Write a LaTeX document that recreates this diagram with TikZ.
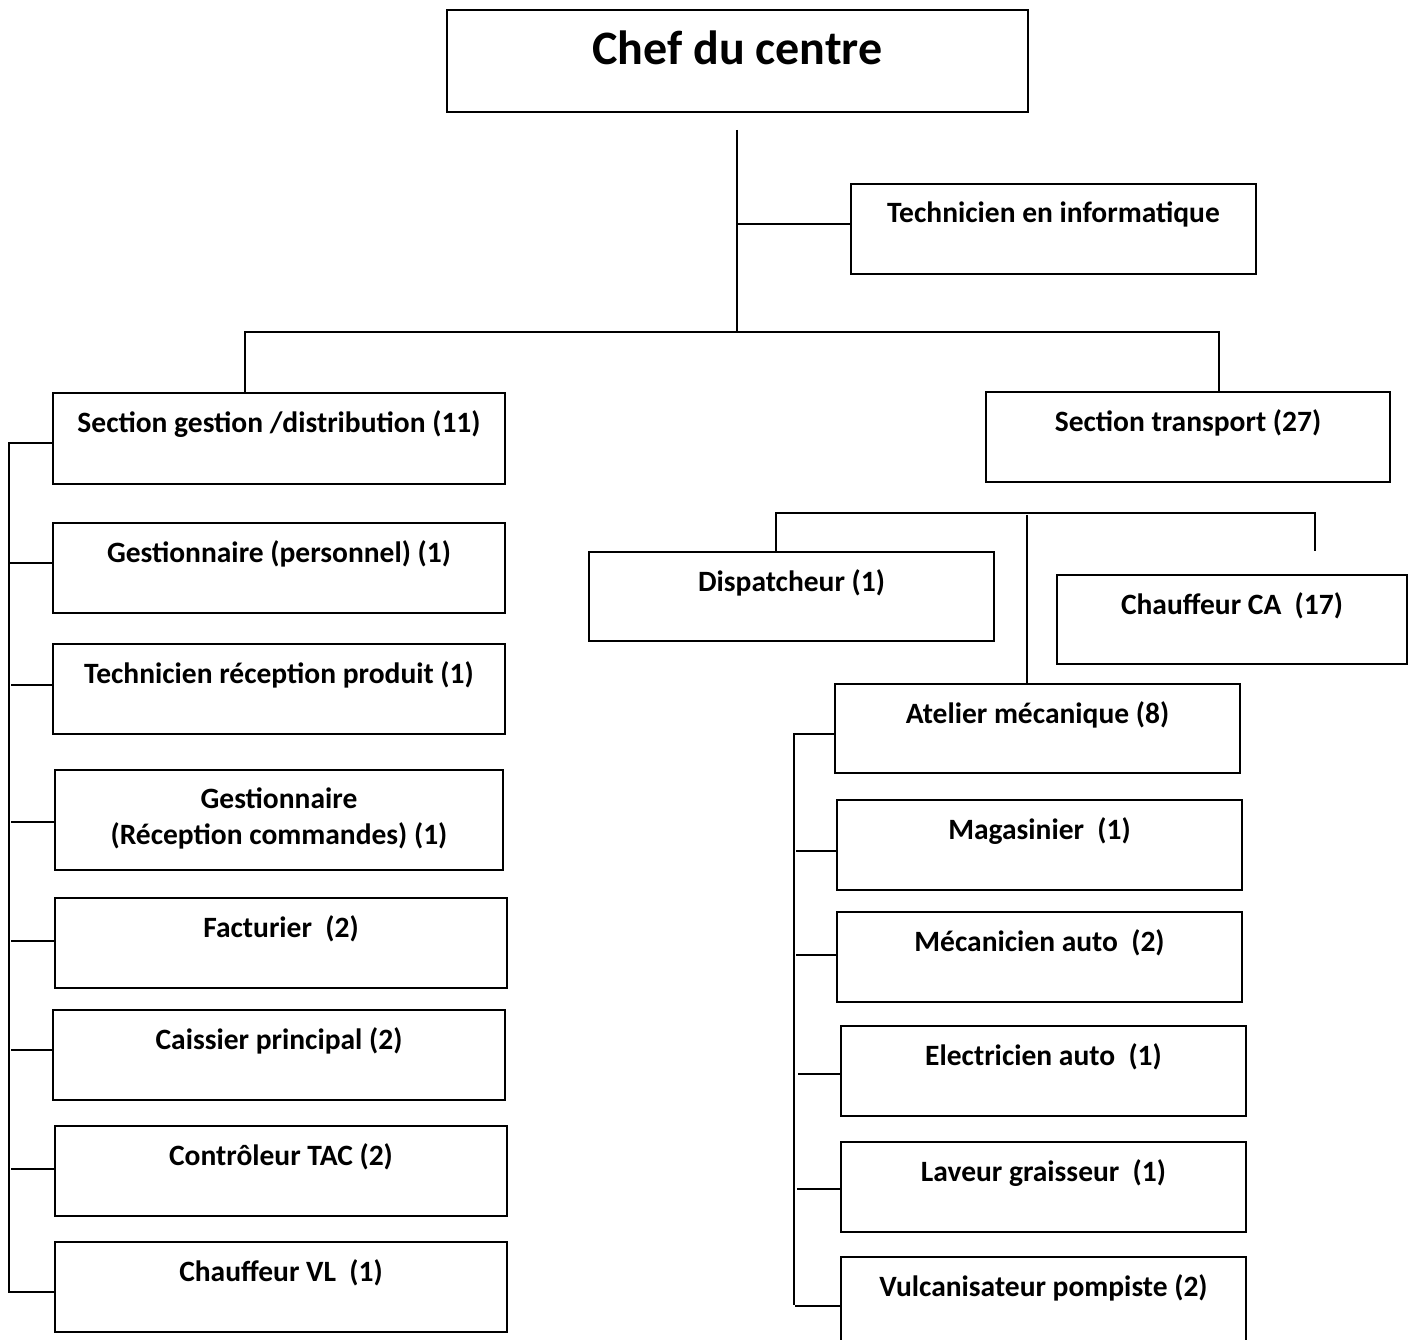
\documentclass[tikz,border=0pt]{standalone}
\usepackage{fontspec}
\setmainfont{Carlito}

% \orgbox[baseline offset]{name}{left}{top}{right}{bottom}{label}:
% framed unit with its label near the top
\newcommand\orgbox[7][39]{%
  \node[unit, minimum width={(#5-#3)*1pt}, minimum height={(#6-#4)*1pt}]
    (#2) at ({(#3+#5)/2},{(#4+#6)/2}) {};
  \node[lbl] (#2-t) at ({(#3+#5)/2},{#4+#1}) {#7};}

\begin{document}
\begin{tikzpicture}[x=1pt,y=-1pt,
  unit/.style={draw, line width=2.2pt, inner sep=0pt},
  lbl/.style={font=\fontsize{29.5}{36}\selectfont\bfseries, inner sep=0pt, anchor=base, align=center},
  link/.style={line width=1.8pt}]

\useasboundingbox (0,0) rectangle (1413,1340);
\clip (0,0) rectangle (1413,1340);

% head of the centre
\node[unit, minimum width=581pt, minimum height=102pt] (chef) at (737.5,61) {};
\node[lbl, font=\fontsize{48}{56}\selectfont\bfseries] (chef-t) at (737.5,65) {Chef du centre};

\orgbox{tech}{851}{184}{1256}{274}{Technicien en informatique}

% sections
\orgbox{sg}{53}{393}{505}{484}{Section gestion /distribution (11)}
\orgbox{st}{986}{392}{1390}{482}{Section transport (27)}

% management / distribution staff
\orgbox{gp}{53}{523}{505}{613}{Gestionnaire (personnel) (1)}
\orgbox{tr}{53}{644}{505}{734}{Technicien réception produit (1)}
\orgbox[74]{gc}{55}{770}{503}{870}{Gestionnaire\\(Réception commandes) (1)}
\orgbox{fa}{55}{898}{507}{988}{Facturier\ \ (2)}
\orgbox{ca}{53}{1010}{505}{1100}{Caissier principal (2)}
\orgbox{ct}{55}{1126}{507}{1216}{Contrôleur TAC (2)}
\orgbox{cv}{55}{1242}{507}{1332}{Chauffeur VL\ \ (1)}

% transport staff
\orgbox{dp}{589}{552}{994}{641}{Dispatcheur (1)}
\orgbox{cc}{1057}{575}{1407}{664}{Chauffeur CA\ \ (17)}
\orgbox{am}{835}{684}{1240}{773}{Atelier mécanique (8)}

% workshop staff
\orgbox{mg}{837}{800}{1242}{890}{Magasinier\ \ (1)}
\orgbox{mc}{837}{912}{1242}{1002}{Mécanicien auto\ \ (2)}
\orgbox{el}{841}{1026}{1246}{1116}{Electricien auto\ \ (1)}
\orgbox{lg}{841}{1142}{1246}{1232}{Laveur graisseur\ \ (1)}
\orgbox{vp}{841}{1257}{1246}{1348}{Vulcanisateur pompiste (2)}

% main trunk
\coordinate (c-top) at (737,130);
\coordinate (c-hub) at (737,332);
\coordinate (c-it)  at (737,224);
\coordinate (c-bl)  at (245,332);
\coordinate (c-br)  at (1219,332);
\draw[link] (c-top) -- (c-hub);
\draw[link] (c-it) -- (c-it -| tech.west);
\draw[link] (c-bl |- sg.north) -- (c-bl) -- (c-br) -- (c-br |- st.north);

% transport branch
\coordinate (t-l)   at (776,513);
\coordinate (t-r)   at (1315,513);
\coordinate (t-end) at (1315,551);
\coordinate (t-m)   at (1027,515);
\draw[link] (t-l |- dp.north) -- (t-l) -- (t-r) -- (t-end);
\draw[link] (t-m) -- (t-m |- am.north);

% left spine
\coordinate (l-top) at (9,443);
\coordinate (l-bot) at (9,1292);
\draw[link] (l-top -| sg.west) -- (l-top) -- (l-bot) -- (l-bot -| cv.west);
\foreach \b/\y/\x in {gp/563/9, tr/685/11, gc/822/11, fa/941/11, ca/1050/11, ct/1169/11} {
  \coordinate (k) at (\x,\y);
  \draw[link] (k) -- (k -| \b.west);
}

% workshop spine
\coordinate (r-top) at (794,734);
\coordinate (r-bot) at (794,1305);
\draw[link] (r-top -| am.west) -- (r-top) -- (r-bot);
\foreach \b/\y/\x in {mg/851/796, mc/955/796, el/1074/798, lg/1189/797, vp/1306/795} {
  \coordinate (k) at (\x,\y);
  \draw[link] (k) -- (k -| \b.west);
}
\end{tikzpicture}
\end{document}
